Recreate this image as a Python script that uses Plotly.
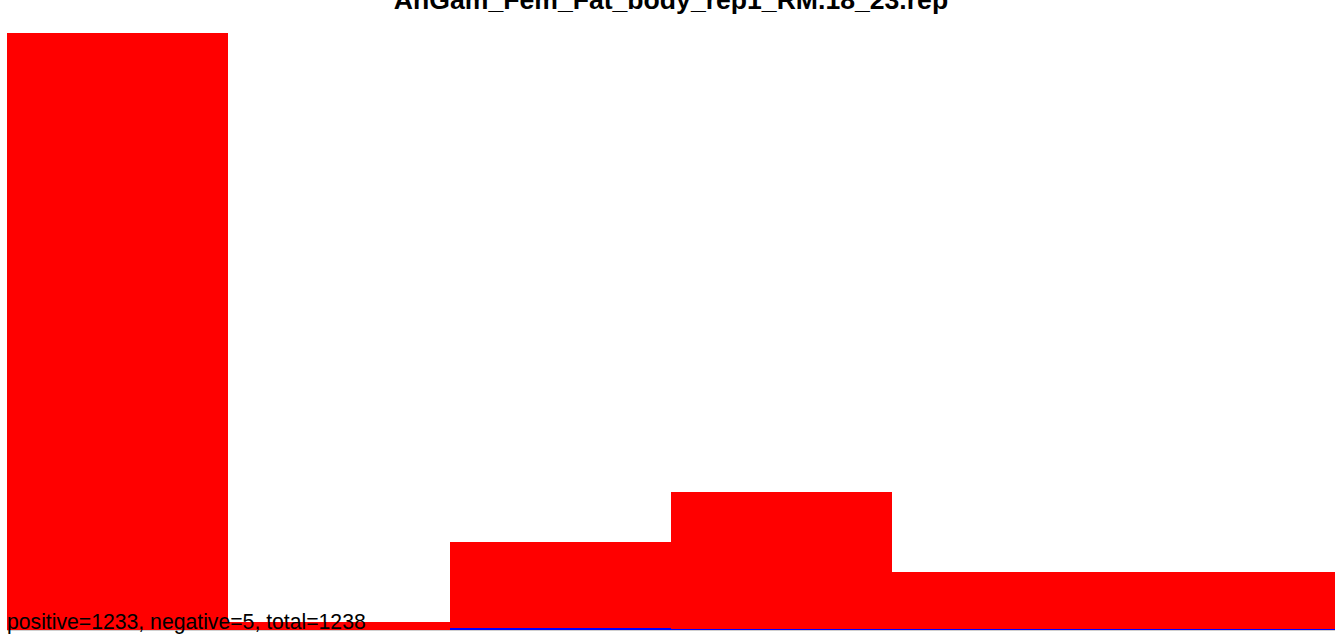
import plotly.graph_objects as go

bins = ["b1", "b2", "b3", "b4", "b5", "b6"]
positive = [781, 10, 113, 179, 75, 75]
negative = [0, 0, 2, 1, 1, 1]
title_text = "AnGam_Fem_Fat_body_rep1_RM.18_23.rep"

pos_total = sum(positive)
neg_total = sum(negative)
totals = [p + n for p, n in zip(positive, negative)]

fig = go.Figure()
fig.add_trace(go.Bar(x=bins, y=negative, name="negative",
                     marker=dict(color="#0000ff", line=dict(width=0))))
fig.add_trace(go.Bar(x=bins, y=positive, name="positive",
                     marker=dict(color="#ff0000", line=dict(width=0))))

fig.update_layout(
    barmode="stack",
    bargap=0,
    width=1344, height=636,
    plot_bgcolor="white", paper_bgcolor="white",
    showlegend=False,
    margin=dict(l=7, r=9, t=33, b=6),
    title=dict(text="<b>" + title_text + "</b>", x=0.5, xanchor="center",
               xref="paper", y=1.0, yref="container", yanchor="middle",
               pad=dict(t=0, b=0),
               font=dict(family="Liberation Sans, Arial", size=26.6, color="black")),
    xaxis=dict(showticklabels=False, ticks="", showgrid=False, zeroline=False,
               showline=False),
    yaxis=dict(range=[0, max(totals)], showticklabels=False, ticks="",
               showgrid=False, zeroline=True, zerolinecolor="#d0d0d0",
               zerolinewidth=1, showline=False),
    annotations=[dict(text=f"positive={pos_total}, negative={neg_total}, total={pos_total + neg_total}",
                      xref="paper", yref="paper", x=0, y=0, xanchor="left",
                      yanchor="bottom", yshift=-6, xshift=-2, showarrow=False,
                      font=dict(family="Liberation Sans, Arial", size=21.2, color="black"))],
)

fig.write_html("out.html", config={"displayModeBar": False},
               post_script="document.body.style.margin='0';")
